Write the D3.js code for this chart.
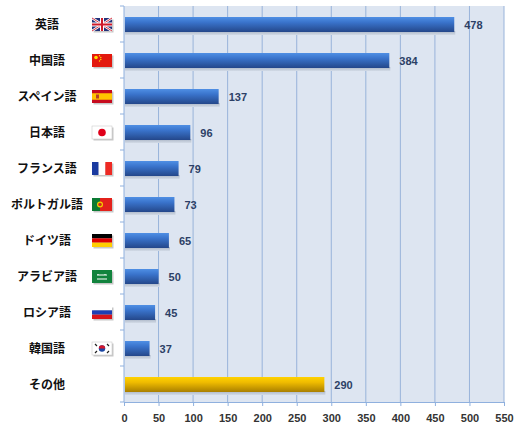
<!DOCTYPE html>
<html>
<head>
<meta charset="utf-8">
<script src="https://cdn.jsdelivr.net/npm/d3@7"></script>
<style>
  body { margin: 0; background: #fff; }
  svg { display: block; }
</style>
</head>
<body>
<svg id="chart" width="520" height="430"></svg>
<script>
// language names, flag codes and speaker counts (millions)
const languages = ['英語', '中国語', 'スペイン語', '日本語', 'フランス語', 'ポルトガル語', 'ドイツ語', 'アラビア語', 'ロシア語', '韓国語', 'その他'];
const flags = ['uk', 'cn', 'es', 'jp', 'fr', 'pt', 'de', 'sa', 'ru', 'kr', null];
const values = [478, 384, 137, 96, 79, 73, 65, 50, 45, 37, 290];
const xTicks = [0, 50, 100, 150, 200, 250, 300, 350, 400, 450, 500, 550];

const margin = { top: 6, left: 124, right: 16, bottom: 28 };
const width = 520, height = 430;

const svg = d3.select('#chart');

const x = d3.scaleLinear()
    .domain([0, 550])
    .range([margin.left, width - margin.right]);

const y = d3.scaleBand()
    .domain(languages)
    .range([margin.top, height - margin.bottom]);

/*
 *  Gradients for the bars (blue for languages, gold for "other")
 */
const defs = svg.append('defs');
function barGradient(id, stops) {
    const g = defs.append('linearGradient')
        .attr('id', id)
        .attr('x1', 0).attr('y1', 0).attr('x2', 0).attr('y2', 1);
    stops.forEach(function (s) {
        g.append('stop').attr('offset', s[0]).attr('stop-color', s[1]);
    });
}
barGradient('blueBar', [[0, '#4f8fe4'], [0.35, '#3a74cc'], [1, '#24478a']]);
barGradient('goldBar', [[0, '#ffd200'], [0.35, '#f0bc00'], [1, '#a97f00']]);
barGradient('shadow', [[0, '#a9b4c4'], [1, '#d3dbe7']]);

// plot background
svg.append('rect')
    .attr('x', x(0))
    .attr('y', margin.top)
    .attr('width', x(550) - x(0))
    .attr('height', y.range()[1] - margin.top)
    .attr('fill', '#dde5f1');

// vertical grid lines
svg.append('g')
    .selectAll('line')
    .data(xTicks.slice(1))
    .join('line')
    .attr('x1', d => x(d)).attr('x2', d => x(d))
    .attr('y1', margin.top).attr('y2', y.range()[1])
    .attr('stroke', '#98b3da')
    .attr('stroke-width', 1);

// bar shadows
const bandCenter = d => y(d) + y.bandwidth() / 2;
svg.append('g')
    .selectAll('rect')
    .data(languages)
    .join('rect')
    .attr('x', x(0) + 1)
    .attr('y', d => bandCenter(d) + 7)
    .attr('width', (d, i) => x(values[i]) - x(0))
    .attr('height', 4)
    .attr('fill', 'url(#shadow)');

// bars
svg.append('g')
    .selectAll('rect')
    .data(languages)
    .join('rect')
    .attr('x', x(0) + 1)
    .attr('y', d => bandCenter(d) - 7)
    .attr('width', (d, i) => x(values[i]) - x(0) - 1)
    .attr('height', 15)
    .attr('fill', (d, i) => flags[i] ? 'url(#blueBar)' : 'url(#goldBar)');

// value labels
svg.append('g')
    .selectAll('text')
    .data(languages)
    .join('text')
    .attr('x', (d, i) => x(values[i]) + 10)
    .attr('y', d => bandCenter(d) + 1)
    .attr('dy', '0.35em')
    .attr('font-family', 'Arial, "Liberation Sans", sans-serif')
    .attr('font-weight', 'bold')
    .attr('font-size', 11)
    .attr('fill', '#2c3f66')
    .text((d, i) => values[i]);

// x axis
const xAxis = svg.append('g')
    .attr('transform', 'translate(0,' + y.range()[1] + ')')
    .call(d3.axisBottom(x).tickValues(xTicks).tickSize(4).tickPadding(8));
xAxis.select('.domain').attr('stroke', '#8fb0de');
xAxis.selectAll('.tick line').attr('stroke', '#8fb0de');
xAxis.selectAll('.tick text')
    .attr('font-family', 'Arial, "Liberation Sans", sans-serif')
    .attr('font-weight', 'bold')
    .attr('font-size', 11)
    .attr('fill', '#333');

// y axis line and ticks at band boundaries
const yAxis = svg.append('g');
yAxis.append('line')
    .attr('x1', x(0)).attr('x2', x(0))
    .attr('y1', margin.top).attr('y2', y.range()[1])
    .attr('stroke', '#8fb0de');
yAxis.selectAll('line.tick')
    .data(languages.map(d => y(d)).concat([y.range()[1]]))
    .join('line')
    .attr('class', 'tick')
    .attr('x1', x(0) - 4).attr('x2', x(0))
    .attr('y1', d => d).attr('y2', d => d)
    .attr('stroke', '#8fb0de');

// category labels
svg.append('g')
    .selectAll('text')
    .data(languages)
    .join('text')
    .attr('x', 47)
    .attr('y', d => bandCenter(d) + 1)
    .attr('dy', '0.35em')
    .attr('text-anchor', 'middle')
    .attr('font-family', '"Noto Sans CJK JP", sans-serif')
    .attr('font-weight', 'bold')
    .attr('font-size', 12)
    .attr('fill', '#111')
    .text(d => d);

/*
 *  Small flag icons, 20x13, drawn into a group at the flag origin
 */
const FW = 20, FH = 13;
function stripes(g, colors, vertical) {
    const n = colors.length;
    colors.forEach(function (c, i) {
        g.append('rect')
            .attr('x', vertical ? i * FW / n : 0)
            .attr('y', vertical ? 0 : i * FH / n)
            .attr('width', vertical ? FW / n : FW)
            .attr('height', vertical ? FH : FH / n)
            .attr('fill', c);
    });
}
const drawFlag = {
    uk: function (g) {
        g.append('rect').attr('width', FW).attr('height', FH).attr('fill', '#23327a');
        g.append('path').attr('d', 'M0,0L' + FW + ',' + FH + 'M' + FW + ',0L0,' + FH)
            .attr('stroke', '#fff').attr('stroke-width', 2.6);
        g.append('path').attr('d', 'M0,0L' + FW + ',' + FH + 'M' + FW + ',0L0,' + FH)
            .attr('stroke', '#cf1b2b').attr('stroke-width', 0.9);
        g.append('path').attr('d', 'M' + FW / 2 + ',0V' + FH + 'M0,' + FH / 2 + 'H' + FW)
            .attr('stroke', '#fff').attr('stroke-width', 4);
        g.append('path').attr('d', 'M' + FW / 2 + ',0V' + FH + 'M0,' + FH / 2 + 'H' + FW)
            .attr('stroke', '#cf1b2b').attr('stroke-width', 2);
    },
    cn: function (g) {
        g.append('rect').attr('width', FW).attr('height', FH).attr('fill', '#e3190e');
        [[4, 3.5, 1.8], [7.5, 1.8, 0.7], [8.8, 3.5, 0.7], [8.8, 5.5, 0.7], [7.5, 7, 0.7]].forEach(function (s) {
            g.append('circle').attr('cx', s[0]).attr('cy', s[1]).attr('r', s[2]).attr('fill', '#ffde00');
        });
    },
    es: function (g) {
        g.append('rect').attr('width', FW).attr('height', FH).attr('fill', '#c60b1e');
        g.append('rect').attr('y', FH / 4).attr('width', FW).attr('height', FH / 2).attr('fill', '#ffc400');
        g.append('rect').attr('x', 4).attr('y', 4.5).attr('width', 3).attr('height', 4).attr('fill', '#b5402a');
    },
    jp: function (g) {
        g.append('rect').attr('width', FW).attr('height', FH).attr('fill', '#fff')
            .attr('stroke', '#ccc').attr('stroke-width', 0.6);
        g.append('circle').attr('cx', FW / 2).attr('cy', FH / 2).attr('r', 3.8).attr('fill', '#e0001a');
    },
    fr: function (g) { stripes(g, ['#1a3aa0', '#fff', '#ee2a24'], true); },
    pt: function (g) {
        g.append('rect').attr('width', FW).attr('height', FH).attr('fill', '#e3211b');
        g.append('rect').attr('width', 8).attr('height', FH).attr('fill', '#0b7a33');
        g.append('circle').attr('cx', 8).attr('cy', FH / 2).attr('r', 3).attr('fill', '#f4d000');
        g.append('circle').attr('cx', 8).attr('cy', FH / 2).attr('r', 1.8).attr('fill', '#d32a1e');
    },
    de: function (g) { stripes(g, ['#000', '#dd0000', '#ffce00'], false); },
    sa: function (g) {
        g.append('rect').attr('width', FW).attr('height', FH).attr('fill', '#11833d');
        g.append('path').attr('d', 'M5,5H9M10,4V6M11,5H15M6,4V5M13,4V5M5,9H15')
            .attr('stroke', '#fff').attr('stroke-width', 1).attr('fill', 'none');
    },
    ru: function (g) { stripes(g, ['#fff', '#1d3fb4', '#d7141a'], false); },
    kr: function (g) {
        g.append('rect').attr('width', FW).attr('height', FH).attr('fill', '#fff')
            .attr('stroke', '#ccc').attr('stroke-width', 0.6);
        g.append('circle').attr('cx', FW / 2).attr('cy', FH / 2).attr('r', 3.2).attr('fill', '#1a46a3');
        g.append('path').attr('d', 'M6.8,6.5A3.2,3.2 0 0 1 13.2,6.5Z').attr('fill', '#d3142a');
        g.append('path').attr('d', 'M3,2L5,4M15,2L17,4M3,11L5,9M15,11L17,9')
            .attr('stroke', '#222').attr('stroke-width', 1.2);
    }
};

const flagGroups = svg.append('g')
    .selectAll('g')
    .data(languages.filter((d, i) => flags[i]))
    .join('g')
    .attr('transform', d => 'translate(92,' + Math.round(bandCenter(d) - 6) + ')');

flagGroups.each(function (d) {
    const g = d3.select(this);
    g.append('rect')
        .attr('x', 1.5).attr('y', 1.5)
        .attr('width', FW).attr('height', FH)
        .attr('fill', '#999').attr('opacity', 0.55);
    drawFlag[flags[languages.indexOf(d)]](g.append('g'));
});
</script>
</body>
</html>
